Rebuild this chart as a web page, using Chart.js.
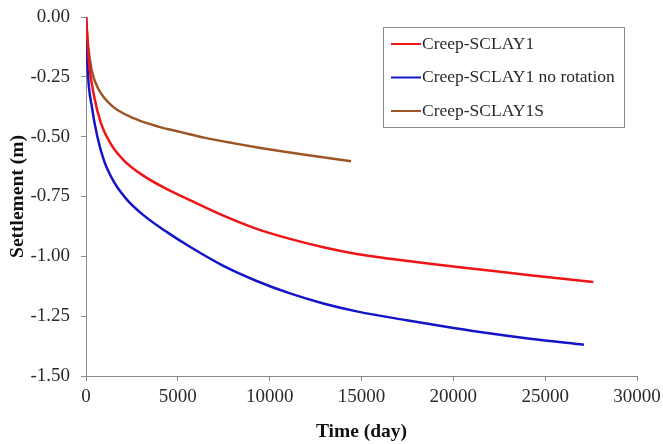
<!DOCTYPE html>
<html>
<head>
<meta charset="utf-8">
<script src="https://cdn.jsdelivr.net/npm/chart.js@4.4.0/dist/chart.umd.min.js"></script>
<style>
  html, body { margin: 0; padding: 0; background: #fff; }
  #wrap { width: 663px; height: 444px; }
</style>
</head>
<body>
<div id="wrap"><canvas id="settlementChart" width="663" height="444"></canvas></div>
<script>
// time (day) and settlement (m)
var seriesNames = ['Creep-SCLAY1', 'Creep-SCLAY1 no rotation', 'Creep-SCLAY1S'];
var seriesColors = ['#f01414', '#1414c8', '#9c5526'];

var timeRed = [0, 160, 440, 800, 1350, 2070, 3160, 4430, 5660, 7480, 9290, 11110, 12920, 14740, 16550, 18730, 21450, 24180, 27620];
var settleRed = [0, -0.190, -0.330, -0.440, -0.530, -0.600, -0.665, -0.720, -0.765, -0.830, -0.885, -0.927, -0.962, -0.990, -1.010, -1.031, -1.055, -1.079, -1.107];

var timeBlue = [0, 70, 340, 620, 980, 1530, 2250, 3160, 4430, 5660, 7480, 9290, 11110, 12920, 14740, 17460, 19270, 21450, 24180, 27110];
var settleBlue = [0, -0.190, -0.385, -0.500, -0.600, -0.690, -0.765, -0.830, -0.900, -0.960, -1.040, -1.103, -1.155, -1.197, -1.230, -1.267, -1.290, -1.316, -1.344, -1.369];

var timeBrown = [0, 125, 310, 670, 1400, 2660, 3930, 5120, 6500, 8000, 9500, 11000, 12700, 14430];
var settleBrown = [0, -0.126, -0.222, -0.300, -0.370, -0.425, -0.458, -0.480, -0.505, -0.527, -0.547, -0.565, -0.584, -0.603];

var xTicks = [0, 5000, 10000, 15000, 20000, 25000, 30000];
var yTicks = [0, -0.25, -0.5, -0.75, -1, -1.25, -1.5];

function toPoints(xs, ys) {
    return xs.map(function (x, i) { return { x: x, y: ys[i] }; });
}

var serif = '"Liberation Serif", "Times New Roman", serif';

// legend box drawn inside the plot, top right
var boxLegend = {
    id: 'boxLegend',
    afterDraw: function (chart) {
        var c = chart.ctx, a = chart.chartArea;
        var left = a.right - 254, top = a.top + 10, w = 241, h = 100;
        c.save();
        c.fillStyle = '#fff';
        c.fillRect(left, top, w, h);
        c.strokeStyle = '#8a8a8a';
        c.lineWidth = 1;
        c.strokeRect(left + 0.5, top + 0.5, w, h);
        c.font = '17.5px ' + serif;
        c.textBaseline = 'middle';
        chart.data.datasets.forEach(function (ds, i) {
            var y = top + 17 + i * 33.5;
            c.strokeStyle = ds.borderColor;
            c.lineWidth = 2;
            c.beginPath();
            c.moveTo(left + 8, y);
            c.lineTo(left + 38, y);
            c.stroke();
            c.fillStyle = '#2a2a2a';
            c.fillText(ds.label, left + 39, y);
        });
        c.restore();
    }
};

var ctx = document.getElementById('settlementChart');
var chart = new Chart(ctx, {
    type: 'scatter',
    data: {
        datasets: [
            { label: seriesNames[0], data: toPoints(timeRed, settleRed), borderColor: seriesColors[0] },
            { label: seriesNames[1], data: toPoints(timeBlue, settleBlue), borderColor: seriesColors[1] },
            { label: seriesNames[2], data: toPoints(timeBrown, settleBrown), borderColor: seriesColors[2] }
        ]
    },
    options: {
        responsive: false,
        animation: false,
        showLine: true,
        elements: {
            point: { radius: 0, hoverRadius: 0 },
            line: { borderWidth: 2.5, cubicInterpolationMode: 'monotone', fill: false }
        },
        layout: { padding: { left: 0, right: 26, top: 17, bottom: 0 } },
        plugins: {
            legend: { display: false },
            tooltip: { enabled: false }
        },
        scales: {
            x: {
                type: 'linear',
                min: 0,
                max: 30000,
                afterBuildTicks: function (s) { s.ticks = xTicks.map(function (v) { return { value: v }; }); },
                afterFit: function (s) { s.height = 68; s.paddingLeft = 0; s.paddingRight = 0; },
                grid: { drawOnChartArea: false, drawTicks: true, tickLength: 5, color: '#8a8a8a' },
                border: { color: '#8a8a8a', width: 1 },
                ticks: {
                    color: '#2a2a2a',
                    font: { family: serif, size: 19 },
                    padding: 5,
                    maxRotation: 0,
                    callback: function (v) { return String(v); }
                },
                title: { display: true, text: 'Time (day)', color: '#111', font: { family: serif, size: 19.5, weight: 'bold' }, padding: { top: 2, bottom: 0 } }
            },
            y: {
                type: 'linear',
                min: -1.5,
                max: 0,
                afterBuildTicks: function (s) { s.ticks = yTicks.map(function (v) { return { value: v }; }); },
                afterFit: function (s) { s.width = 86; s.paddingTop = 0; s.paddingBottom = 0; },
                grid: { drawOnChartArea: false, drawTicks: true, tickLength: 5, color: '#8a8a8a' },
                border: { color: '#8a8a8a', width: 1 },
                ticks: {
                    color: '#2a2a2a',
                    font: { family: serif, size: 19 },
                    padding: 11,
                    callback: function (v) { return v.toFixed(2); }
                },
                title: { display: true, text: 'Settlement (m)', color: '#111', font: { family: serif, size: 19.5, weight: 'bold' }, padding: { top: 6, bottom: 0 } }
            }
        }
    },
    plugins: [boxLegend]
});
</script>
</body>
</html>
